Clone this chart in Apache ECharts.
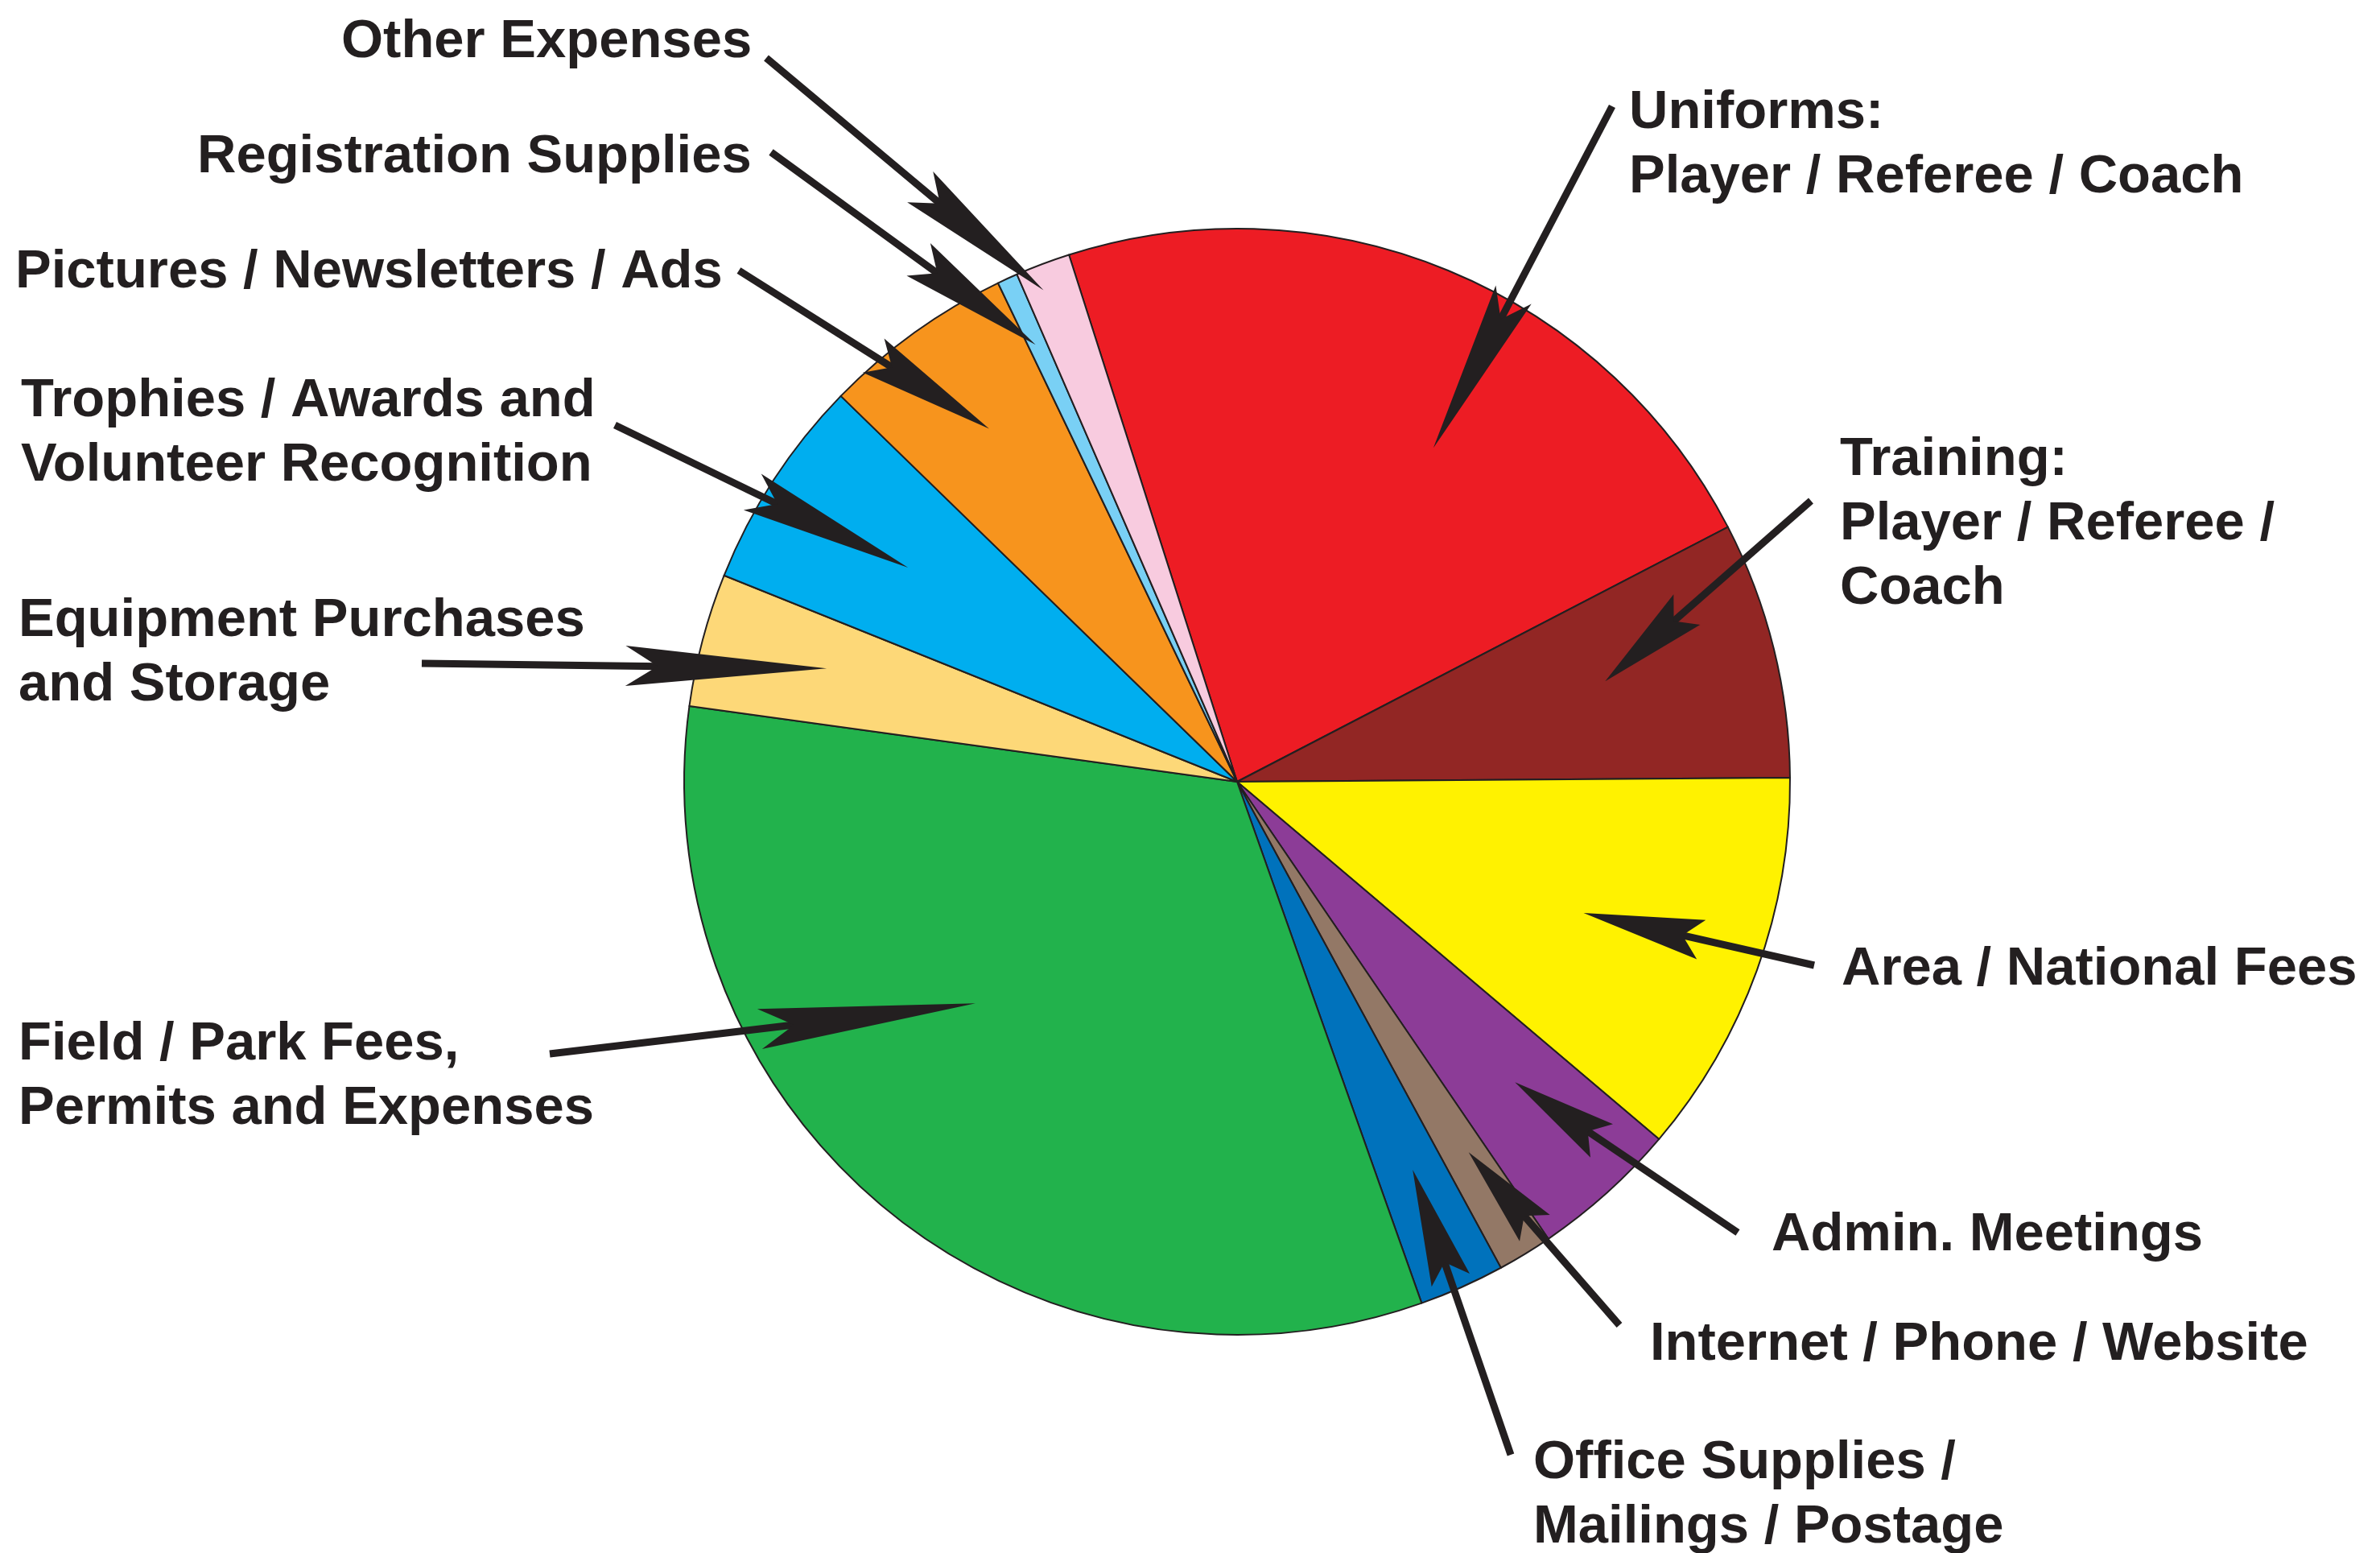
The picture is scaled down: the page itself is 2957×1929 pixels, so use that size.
<!DOCTYPE html>
<html>
<head>
<meta charset="utf-8">
<script src="https://cdn.jsdelivr.net/npm/echarts@6/dist/echarts.min.js"></script>
<style>
html,body{margin:0;padding:0;background:#ffffff;}
#chart{width:2957px;height:1929px;}
</style>
</head>
<body>
<div id="chart"></div>
<script>
// ---- data (clockwise from the top, starting with Uniforms) ----
const categories = [
  'Uniforms: Player / Referee / Coach',
  'Training: Player / Referee / Coach',
  'Area / National Fees',
  'Admin. Meetings',
  'Internet / Phone / Website',
  'Office Supplies / Mailings / Postage',
  'Field / Park Fees, Permits and Expenses',
  'Equipment Purchases and Storage',
  'Trophies / Awards and Volunteer Recognition',
  'Pictures / Newsletters / Ads',
  'Registration Supplies',
  'Other Expenses'
];
const values = [22.3, 7.5, 11.3, 4.3, 1.6, 2.5, 32.6, 3.9, 6.2, 5.6, 0.6, 1.6];
const labelTexts = [
  'Uniforms:\nPlayer / Referee / Coach',
  'Training:\nPlayer / Referee /\nCoach',
  'Area / National Fees',
  'Admin. Meetings',
  'Internet / Phone / Website',
  'Office Supplies /\nMailings / Postage',
  'Field / Park Fees,\nPermits and Expenses',
  'Equipment Purchases\nand Storage',
  'Trophies / Awards and\nVolunteer Recognition',
  'Pictures / Newsletters / Ads',
  'Registration Supplies',
  'Other Expenses'
];

// ---- styles / layout ----
const colors = ['#ED1C24','#922624','#FFF200','#8C3C97','#937866','#0072BC',
                '#22B24C','#FDD878','#00AEEF','#F7941D','#79D0F5','#F8CBDF'];
// label box top-left (px)
const labelPos = [
  [2024, 101], [2286, 532], [2288, 1165], [2201, 1495], [2050, 1631], [1905, 1778],
  [23, 1258], [23, 732], [26, 459], [19, 299], [245, 156], [424, 13]
];
// arrow: tail point, tip position within slice (fraction of angle span, fraction of radius), head length
const arrowTail = [
  [2003,132],[2250,622],[2254,1199],[2159,1531],[2012,1646],[1877,1807],
  [683,1309],[524,824],[764,528],[918,336],[958,189],[952,72]
];
const arrowTipFrac = [0.60,0.45,0.52,0.45,0.39,0.46,0.59,0.54,0.50,0.53,0.40,0.34];
const arrowTipR    = [0.70,0.69,0.67,0.74,0.79,0.77,0.62,0.77,0.71,0.78,0.87,0.955];
const arrowHead    = [215,135,150,130,125,145,270,250,215,170,180,200];

const INK = '#231F20';
const chart = echarts.init(document.getElementById('chart'), null, {renderer:'canvas'});

const option = {
  backgroundColor: '#ffffff',
  animation: false,
  series: [{
    type: 'pie',
    center: [1537, 971],
    radius: 687,
    startAngle: 107.7,
    clockwise: true,
    avoidLabelOverlap: false,
    data: categories.map((c, i) => ({
      name: c, value: values[i],
      itemStyle: { color: colors[i] }
    })),
    itemStyle: { borderColor: INK, borderWidth: 2 },
    label: {
      show: true,
      position: 'outside',
      formatter: p => labelTexts[p.dataIndex],
      fontFamily: "'Liberation Sans', Arial, sans-serif",
      fontWeight: 'bold',
      fontSize: 67,
      lineHeight: 80,
      color: INK,
      align: 'left'
    },
    labelLine: { show: false },
    labelLayout: p => ({
      x: labelPos[p.dataIndex][0],
      y: labelPos[p.dataIndex][1],
      align: 'left',
      verticalAlign: 'top'
    }),
    emphasis: { disabled: true }
  }]
};
chart.setOption(option);

// ---- arrows derived from the pie's computed layout ----
function sliceLayouts() {
  let layouts = null;
  try {
    const data = chart.getModel().getSeriesByIndex(0).getData();
    layouts = values.map((v, i) => data.getItemLayout(i));
  } catch (e) { layouts = null; }
  if (!layouts || !layouts[0]) {
    const total = values.reduce((a, b) => a + b, 0);
    let a = -107.7 * Math.PI / 180;
    layouts = values.map(v => {
      const s = a; a += v / total * Math.PI * 2;
      return { cx: 1537, cy: 971, r: 687, startAngle: s, endAngle: a };
    });
  }
  return layouts;
}
const lay = sliceLayouts();
const graphics = [];
lay.forEach((l, i) => {
  const ang = l.startAngle + arrowTipFrac[i] * (l.endAngle - l.startAngle);
  const rr = l.r * arrowTipR[i];
  const P = [l.cx + rr * Math.cos(ang), l.cy + rr * Math.sin(ang)];
  const T = arrowTail[i];
  const dx = P[0] - T[0], dy = P[1] - T[1];
  const len = Math.hypot(dx, dy);
  const u = [dx / len, dy / len], n = [-u[1], u[0]];
  const L = arrowHead[i], w = 25, notch = 0.16 * L;
  const B = [P[0] - u[0] * L, P[1] - u[1] * L];
  const N = [B[0] + u[0] * notch, B[1] + u[1] * notch];
  graphics.push({
    type: 'line', z: 100, silent: true,
    shape: { x1: T[0], y1: T[1], x2: N[0] + u[0] * 4, y2: N[1] + u[1] * 4 },
    style: { stroke: INK, lineWidth: 9, lineCap: 'butt' }
  });
  graphics.push({
    type: 'polygon', z: 101, silent: true,
    shape: { points: [P, [B[0] + n[0] * w, B[1] + n[1] * w], N, [B[0] - n[0] * w, B[1] - n[1] * w]] },
    style: { fill: INK }
  });
});
chart.setOption({ graphic: graphics });
</script>
</body>
</html>
